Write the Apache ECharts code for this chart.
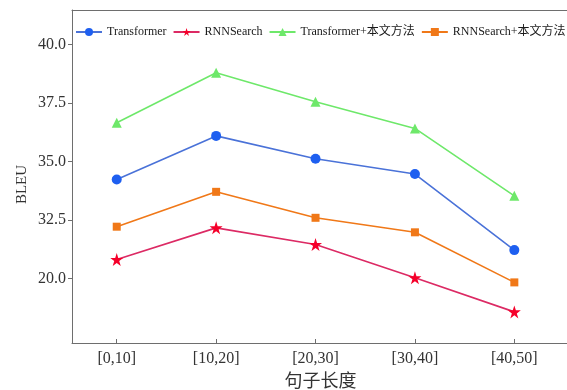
<!DOCTYPE html>
<html><head><meta charset="utf-8">
<script src="https://cdn.jsdelivr.net/npm/echarts@6/dist/echarts.min.js"></script>
<style>html,body{margin:0;padding:0;background:#fff}#c{width:567px;height:390px}</style>
</head><body><div id="c"></div>
<script>
const categories = ['[0,10]', '[10,20]', '[20,30]', '[30,40]', '[40,50]'];
const transformer = [34.23, 36.09, 35.11, 34.46, 31.21];
const rnnsearch = [30.81, 32.16, 31.45, 30.03, 28.57];
const transformerOurs = [36.65, 38.79, 37.55, 36.41, 33.53];
const rnnsearchOurs = [32.21, 33.70, 32.59, 31.97, 29.83];
const yTickValues = [30, 32.5, 35, 37.5, 40];
const yTickLabels = ['20.0', '32.5', '35.0', '37.5', '40.0'];
const seriesNames = ['Transformer', 'RNNSearch', 'Transformer+本文方法', 'RNNSearch+本文方法'];

const font = 'Liberation Serif, Noto Sans CJK SC, serif';
const toPts = arr => arr.map((v, i) => [i, v]);
const axisColor = '#6e6e6e';

const chart = echarts.init(document.getElementById('c'));
const mk = (name, data, symbol, size, mColor, lColor) => ({
  name, type: 'line', data: toPts(data), symbol, symbolSize: size,
  itemStyle: { color: mColor }, lineStyle: { color: lColor, width: 1.6 },
  z: 3
});
chart.setOption({
  animation: false,
  backgroundColor: '#fff',
  grid: { left: 72, top: 10, right: -2, bottom: 47, outerBoundsMode: 'none', containLabel: false },
  legend: {
    top: 21, left: 70, width: 520, itemGap: 6, itemWidth: 26, itemHeight: 10,
    textStyle: { fontFamily: font, fontSize: 12, color: '#1a1a1a' },
    data: seriesNames
  },
  xAxis: [{
    type: 'value', min: -0.45, max: 4.55,
    name: '句子长度', nameLocation: 'middle', nameGap: 30,
    nameTextStyle: { fontFamily: font, fontSize: 18, color: '#333' },
    splitLine: { show: false },
    axisLine: { show: true, onZero: false, lineStyle: { color: axisColor, width: 1 } },
    axisTick: { show: true, inside: true, length: 4, customValues: [0, 1, 2, 3, 4], lineStyle: { color: axisColor } },
    axisLabel: { customValues: [0, 1, 2, 3, 4], formatter: v => categories[Math.round(v)], fontFamily: font, fontSize: 16, color: '#333', margin: 8 }
  }, {
    type: 'value', position: 'top', min: -0.45, max: 4.55,
    axisLine: { show: true, onZero: false, lineStyle: { color: axisColor, width: 1 } },
    axisTick: { show: false }, axisLabel: { show: false }, splitLine: { show: false }
  }],
  yAxis: {
    type: 'value', min: 27.24, max: 41.47,
    name: 'BLEU', nameLocation: 'middle', nameGap: 42, nameMoveOverlap: false,
    nameTextStyle: { fontFamily: font, fontSize: 15, color: '#333', padding: [0, 16, 0, 0] },
    splitLine: { show: false },
    axisLine: { show: true, onZero: false, lineStyle: { color: axisColor, width: 1 } },
    axisTick: { show: true, length: 4, customValues: yTickValues, lineStyle: { color: axisColor } },
    axisLabel: { customValues: yTickValues, formatter: v => yTickLabels[yTickValues.indexOf(v)], fontFamily: font, fontSize: 16, color: '#333', margin: 6 }
  },
  series: [
    mk(seriesNames[0], transformer, 'circle', 10, '#1e5ff0', '#4a72d8'),
    mk(seriesNames[1], rnnsearch, 'path://M50,0 L61.8,36.2 L100,36.2 L69.1,58.8 L80.9,95.1 L50,72.7 L19.1,95.1 L30.9,58.8 L0,36.2 L38.2,36.2 Z', 13, '#f5002a', '#dc2a64'),
    mk(seriesNames[2], transformerOurs, 'triangle', 10, '#6ee86a', '#6ee86a'),
    mk(seriesNames[3], rnnsearchOurs, 'rect', 8, '#f07818', '#f07818')
  ]
});
</script></body></html>
